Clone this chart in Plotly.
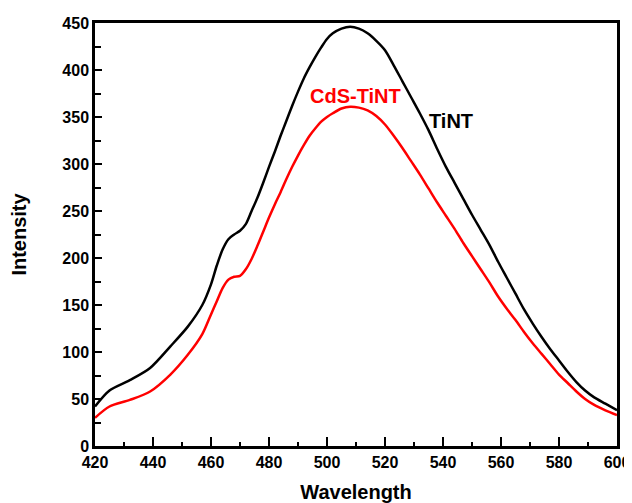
import plotly.graph_objects as go

# TiNT (black)
tint_wl = [420, 425, 432, 439, 446, 452, 457, 460, 462, 464, 466, 468, 470, 472, 474,
           476, 478, 480, 482, 484, 486, 488, 490, 492, 494, 496, 498, 500, 502, 505,
           508, 511, 514, 517, 520, 523, 526, 529, 532, 535, 538, 541, 544, 547, 550,
           553, 556, 559, 562, 565, 568, 571, 574, 577, 580, 583, 586, 589, 592, 596, 600]
tint_int = [42, 59, 70, 83, 106, 127, 150, 172, 192, 209, 220, 225, 229, 236, 250,
            264, 280, 297, 313, 330, 346, 362, 377, 391, 403, 414, 424, 433, 439, 444,
            446, 444, 439, 431, 421, 405, 388, 371, 354, 336, 316, 297, 280, 263, 246,
            230, 214, 196, 179, 162, 145, 130, 116, 103, 91, 79, 68, 59, 52, 45, 38]

# CdS-TiNT (red)
cds_wl = [420, 425, 432, 439, 446, 452, 457, 460, 462, 464, 466, 468, 470, 472, 474,
          476, 478, 480, 482, 484, 486, 488, 490, 492, 494, 496, 498, 500, 502, 505,
          508, 511, 514, 517, 520, 523, 526, 529, 532, 535, 538, 541, 544, 547, 550,
          553, 556, 559, 562, 565, 568, 571, 574, 577, 580, 583, 586, 589, 592, 596, 600]
cds_int = [30, 42, 49, 58, 76, 97, 119, 140, 154, 168, 177, 180, 181, 188, 199,
           213, 228, 243, 257, 270, 284, 297, 309, 320, 330, 338, 345, 350, 354, 359,
           361, 360, 357, 351, 342, 330, 317, 303, 289, 274, 259, 245, 231, 216, 202,
           188, 174, 159, 146, 134, 121, 109, 98, 87, 76, 67, 58, 50, 44, 38, 33]

FONT = "Liberation Sans, Arial, sans-serif"

fig = go.Figure()
fig.add_trace(go.Scatter(x=tint_wl, y=tint_int, mode="lines", name="TiNT",
                         line=dict(color="black", width=2.5, shape="spline", smoothing=0.8)))
fig.add_trace(go.Scatter(x=cds_wl, y=cds_int, mode="lines", name="CdS-TiNT",
                         line=dict(color="#ff0000", width=2.5, shape="spline", smoothing=0.8)))

# curve labels
fig.add_annotation(x=509.7, y=372.6, text="<b>CdS-TiNT</b>", showarrow=False,
                   font=dict(family=FONT, size=20, color="#ff0000"))
fig.add_annotation(x=542.8, y=346, text="<b>TiNT</b>", showarrow=False,
                   font=dict(family=FONT, size=20, color="black"))

# the page body adds an 8px offset, so margins are shifted to compensate
fig.update_layout(
    width=632, height=503,
    margin=dict(l=87, r=23, t=15, b=65),
    paper_bgcolor="white", plot_bgcolor="white",
    showlegend=False,
    font=dict(family=FONT, color="black"),
)

fig.update_xaxes(
    range=[420, 600], dtick=20, tick0=420, automargin=False,
    showgrid=False, zeroline=False,
    showline=True, linecolor="black", linewidth=2.5, mirror=True,
    ticks="inside", ticklen=9, tickwidth=2, tickcolor="black",
    minor=dict(ticks="inside", ticklen=4, tickwidth=2, tickcolor="black", dtick=10),
    tickfont=dict(family=FONT, size=16, color="black", weight="bold"),
    title=dict(text="<b>Wavelength</b>", font=dict(family=FONT, size=20), standoff=16),
)
fig.update_yaxes(
    range=[0, 450], dtick=50, automargin=False,
    showgrid=False, zeroline=False,
    showline=True, linecolor="black", linewidth=2.5, mirror=True,
    ticks="inside", ticklen=7, tickwidth=2, tickcolor="black",
    minor=dict(ticks="inside", ticklen=6, tickwidth=2, tickcolor="black", dtick=25),
    tickfont=dict(family=FONT, size=16, color="black", weight="bold"),
    title=dict(text="<b>Intensity</b>", font=dict(family=FONT, size=20), standoff=40),
)

fig.write_html("out.html")
